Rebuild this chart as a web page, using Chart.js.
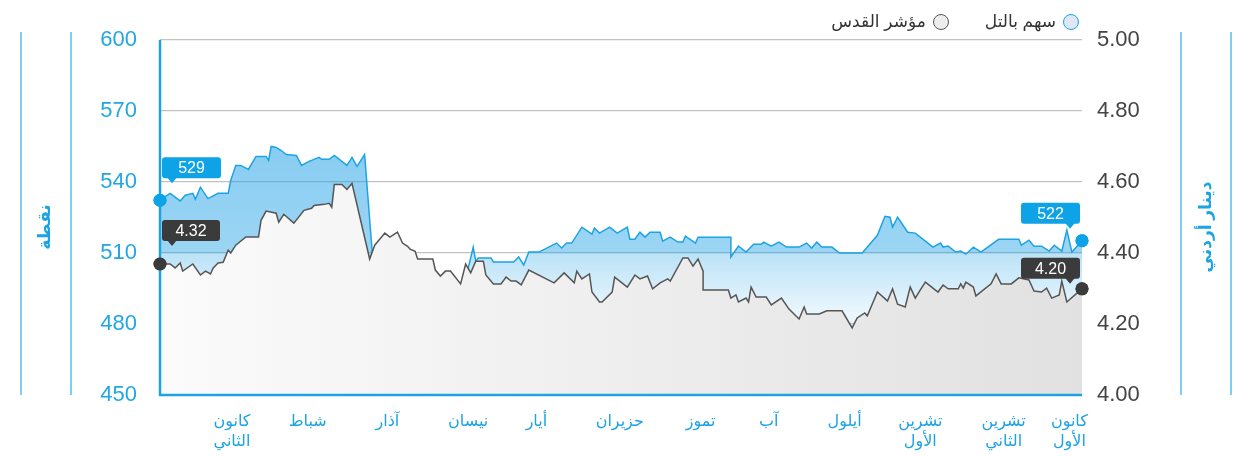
<!DOCTYPE html>
<html lang="ar">
<head>
<meta charset="utf-8">
<title>سهم بالتل / مؤشر القدس</title>
<script src="https://cdn.jsdelivr.net/npm/chart.js@4.4.1/dist/chart.umd.min.js"></script>
<style>
  html, body { margin: 0; padding: 0; background: #fff; }
  #wrap { position: relative; width: 1248px; height: 456px; }
  .legend { position: absolute; top: 11px; right: 169px; display: flex; gap: 36px;
    font: 17px 'Liberation Sans', 'DejaVu Sans', sans-serif; color: #333; }
  .legend-item { display: flex; align-items: center; gap: 7px; }
  .legend-dot { width: 16px; height: 16px; border-radius: 50%; box-sizing: border-box; border: 1.5px solid; }
</style>
</head>
<body>
<div id="wrap">
  <canvas id="chart"></canvas>
  <div class="legend" dir="rtl" id="legend"></div>
</div>
<script>
// ============ DATA ============
// x = day of the year (0..365)
const indexDays = [0,4,8,10,13,14,16,19,23,27,28,30,32,35,38,42,43,44,46,48,50,54,56,59,63,64,67,69,74,76,78,81,84,100,
  122,124,125,126,131,132,140,142,144,146,150,157,159,161,163,167,171,172,174,178,181,185,186,188,190,192,194,198,199,202,
  205,207,208,212,213,226,226,229,232,235,238,239,242,245,248,253,256,258,260,262,266,269,278,284,287,289,290,292,296,299,
  304,306,309,310,312,315,317,319,322,325,332,340,341,344,346,349,352,354,357,359,361,365];
const indexValues = [532.3,535.2,532.0,534.4,535.2,532.7,537.8,533.0,535.2,535.2,540.7,547.0,547.0,545.3,550.8,550.8,549.1,555.0,
  554.6,553.3,551.6,551.2,547.0,548.7,550.4,549.6,549.6,551.2,547.0,550.4,546.6,551.6,510.4,null,
  503.5,512.5,506.6,507.9,507.9,506.2,506.2,508.3,504.9,510.4,510.4,514.2,512.1,514.2,514.2,520.9,518.0,520.5,518.4,520.9,
  518.4,520.9,515.8,515.8,518.8,516.7,518.8,518.8,515.0,516.7,514.6,514.6,517.1,514.2,516.7,516.7,508.3,512.9,510.4,513.7,
  513.7,514.6,512.9,514.6,512.5,512.5,514.2,512.1,514.6,512.5,512.5,510.0,510.0,517.5,525.5,525.1,520.9,525.1,518.8,518.4,
  514.2,512.5,514.2,512.5,512.9,510.4,510.8,509.5,512.5,510.4,515.8,515.8,513.3,515.4,512.9,512.9,510.8,513.3,510.8,519.7,
  510.4,515.2];

const stockDays = [0,4,6,8,9,13,16,18,20,21,23,25,27,28,30,34,39,40,42,46,47,49,53,57,60,61,65,67,68,69,72,74,76,83,85,89,91,
  94,96,98,99,101,102,108,109,111,113,115,119,121,123,125,128,129,132,135,137,139,141,143,146,156,160,164,165,167,170,171,
  174,175,179,180,185,188,190,193,195,198,201,202,207,209,211,213,215,215,225,226,228,229,232,233,234,236,240,242,246,249,
  253,255,256,261,264,270,274,276,279,280,284,288,290,292,295,297,299,301,303,308,310,312,316,317,318,319,322,323,329,331,
  333,337,340,344,346,349,351,353,356,357,359,363,365];
const stockValues = [4.369,4.369,4.358,4.372,4.349,4.369,4.338,4.349,4.341,4.357,4.372,4.374,4.408,4.400,4.422,4.445,4.445,
  4.492,4.518,4.512,4.487,4.509,4.484,4.520,4.526,4.534,4.537,4.540,4.529,4.593,4.593,4.579,4.596,4.383,4.422,4.456,4.445,
  4.459,4.428,4.419,4.411,4.405,4.383,4.383,4.352,4.335,4.349,4.349,4.313,4.369,4.344,4.377,4.377,4.338,4.313,4.313,4.332,
  4.321,4.321,4.310,4.352,4.316,4.344,4.316,4.349,4.327,4.341,4.290,4.262,4.262,4.290,4.332,4.304,4.338,4.327,4.335,4.299,
  4.316,4.327,4.321,4.386,4.386,4.363,4.383,4.349,4.296,4.296,4.273,4.282,4.262,4.273,4.262,4.304,4.276,4.276,4.254,4.273,
  4.242,4.214,4.248,4.228,4.228,4.237,4.237,4.189,4.217,4.231,4.223,4.290,4.265,4.299,4.256,4.248,4.304,4.273,4.296,4.318,
  4.290,4.310,4.299,4.299,4.313,4.301,4.318,4.304,4.279,4.313,4.341,4.313,4.313,4.330,4.324,4.293,4.290,4.301,4.273,4.282,
  4.321,4.262,4.287,4.299];

// first / last value callouts
const indexLabels = ['529', '522'];
const stockLabels = ['4.32', '4.20'];

const monthTicks = [28.5, 58.5, 90, 122, 149, 182, 214, 241, 271, 301, 334, 360];
const monthLabels = [['كانون', 'الثاني'], 'شباط', 'آذار', 'نيسان', 'أيار', 'حزيران', 'تموز', 'آب', 'أيلول',
  ['تشرين', 'الأول'], ['تشرين', 'الثاني'], ['كانون', 'الأول']];

const seriesNames = ['سهم بالتل', 'مؤشر القدس'];
const axisTitles = ['نقطة', 'دينار أردني'];

// ============ STYLE ============
const BLUE = '#1ca3e2';
const DARK = '#3b3b3b';
const FONT = "'Liberation Sans', 'DejaVu Sans', sans-serif";

function blueFill(c) {
  const chart = c.chart, area = chart.chartArea;
  if (!area) return 'rgba(30,160,230,0.3)';
  const y510 = chart.scales.y.getPixelForValue(510);
  const t = (y510 - area.top) / (area.bottom - area.top);
  const g = chart.ctx.createLinearGradient(0, area.top, 0, area.bottom);
  g.addColorStop(0, 'rgba(30,160,230,0.62)');
  g.addColorStop(t, 'rgba(30,160,230,0.44)');
  g.addColorStop(t + 0.002, 'rgba(30,160,230,0.3)');
  g.addColorStop(0.76, 'rgba(30,160,230,0.1)');
  g.addColorStop(1, 'rgba(30,160,230,0.04)');
  return g;
}

function greyFill(c) {
  const chart = c.chart, area = chart.chartArea;
  if (!area) return '#eee';
  const g = chart.ctx.createLinearGradient(area.left, 0, area.right, 0);
  g.addColorStop(0, '#fbfbfb');
  g.addColorStop(1, '#e1e1e2');
  return g;
}

const endDot = last => c => (c.dataIndex === 0 || c.dataIndex === last) ? 6.5 : 0;

// ============ PLUGINS ============
const decor = {
  id: 'decor',
  afterDatasetsDraw(chart) {
    // plot frame (left + bottom), drawn above the fills
    const { ctx, chartArea: a } = chart;
    ctx.save();
    ctx.strokeStyle = BLUE;
    ctx.lineWidth = 2.5;
    ctx.beginPath();
    ctx.moveTo(a.left, a.top); ctx.lineTo(a.left, a.bottom); ctx.lineTo(a.right, a.bottom);
    ctx.stroke();
    ctx.restore();
  },
  afterDraw(chart) {
    const ctx = chart.ctx;
    ctx.save();
    ctx.strokeStyle = '#7fcdf1';
    ctx.lineWidth = 2;
    [21, 71, 1181, 1231].forEach(x => {
      ctx.beginPath(); ctx.moveTo(x, 32); ctx.lineTo(x, 395); ctx.stroke();
    });
    ctx.fillStyle = BLUE;
    ctx.font = 'bold 17px ' + FONT;
    ctx.textAlign = 'center';
    ctx.textBaseline = 'middle';
    [[45, 227, axisTitles[0]], [1206, 227, axisTitles[1]]].forEach(([x, y, s]) => {
      ctx.save(); ctx.translate(x, y); ctx.rotate(-Math.PI / 2); ctx.fillText(s, 0, 0); ctx.restore();
    });
    ctx.restore();
  }
};

function callout(ctx, x, y, w, h, tipX, text, color) {
  ctx.fillStyle = color;
  ctx.beginPath();
  ctx.roundRect(x, y, w, h, 3);
  ctx.fill();
  ctx.beginPath();
  ctx.moveTo(tipX - 5, y + h - 1); ctx.lineTo(tipX + 5, y + h - 1); ctx.lineTo(tipX, y + h + 5);
  ctx.closePath(); ctx.fill();
  ctx.fillStyle = '#fff';
  ctx.font = '16px ' + FONT;
  ctx.textAlign = 'center';
  ctx.textBaseline = 'middle';
  ctx.fillText(text, x + w / 2, y + h / 2 + 1);
}

const callouts = {
  id: 'callouts',
  afterDatasetsDraw(chart) {
    const ctx = chart.ctx;
    const bl = chart.getDatasetMeta(0).data, gr = chart.getDatasetMeta(1).data;
    const b0 = bl[0], b1 = bl[bl.length - 1], g0 = gr[0], g1 = gr[gr.length - 1];
    ctx.save();
    // end dots again, on top of the frame
    [b0, b1, g0, g1].forEach(p => p.draw(ctx));
    callout(ctx, b0.x + 2, b0.y - 43, 59, 21, b0.x + 12, indexLabels[0], '#0ea2e6');
    callout(ctx, g0.x + 2, g0.y - 44, 58, 21, g0.x + 12, stockLabels[0], DARK);
    callout(ctx, b1.x - 61, b1.y - 38, 59, 21, b1.x - 12, indexLabels[1], '#0ea2e6');
    callout(ctx, g1.x - 61, g1.y - 31, 59, 21, g1.x - 12, stockLabels[1], DARK);
    ctx.restore();
  }
};

// ============ CHART ============
const chart = new Chart(document.getElementById('chart'), {
  type: 'line',
  data: {
    datasets: [
      {
        label: seriesNames[0],
        data: indexDays.map((d, i) => ({ x: d, y: indexValues[i] })),
        yAxisID: 'y',
        borderColor: BLUE,
        borderWidth: 1.5,
        backgroundColor: blueFill,
        fill: '+1',
        tension: 0,
        pointRadius: endDot(indexDays.length - 1),
        pointBackgroundColor: '#0ea2e6',
        pointBorderWidth: 0,
        clip: false,
        order: 2
      },
      {
        label: seriesNames[1],
        data: stockDays.map((d, i) => ({ x: d, y: stockValues[i] })),
        yAxisID: 'y1',
        borderColor: '#555',
        borderWidth: 1.5,
        backgroundColor: greyFill,
        fill: 'start',
        tension: 0,
        pointRadius: endDot(stockDays.length - 1),
        pointBackgroundColor: DARK,
        pointBorderWidth: 0,
        clip: false,
        order: 1
      }
    ]
  },
  options: {
    responsive: true,
    maintainAspectRatio: false,
    animation: false,
    events: [],
    layout: { padding: { top: 40, left: 0, right: 0, bottom: 0 } },
    plugins: { legend: { display: false }, tooltip: { enabled: false } },
    scales: {
      x: {
        type: 'linear', min: 0, max: 365,
        afterFit: s => { s.height = 61; },
        afterBuildTicks: s => { s.ticks = monthTicks.map(v => ({ value: v })); },
        grid: { display: false },
        border: { display: false },
        ticks: {
          autoSkip: false, maxRotation: 0, padding: 8,
          color: BLUE, font: { family: FONT, size: 16, lineHeight: 1.28 },
          callback: (v, i) => monthLabels[i]
        }
      },
      y: {
        position: 'left', min: 450, max: 600,
        afterFit: s => { s.width = 160; },
        grid: { color: c => c.tick.value === 450 ? 'rgba(0,0,0,0)' : '#c2c2c2', lineWidth: 1.3, drawTicks: false },
        border: { display: false },
        ticks: { stepSize: 30, padding: 23, color: '#22a7e2', font: { family: FONT, size: 22 } }
      },
      y1: {
        position: 'right', min: 4, max: 5,
        afterFit: s => { s.width = 166; },
        grid: { display: false, drawTicks: false },
        border: { display: false },
        ticks: { stepSize: 0.2, padding: 15, color: '#444', font: { family: FONT, size: 22 },
          callback: v => v.toFixed(2) }
      }
    }
  },
  plugins: [decor, callouts]
});

// legend
const legendColors = [['#dde7f6', BLUE], ['#eeeeee', '#555']];
document.getElementById('legend').innerHTML = seriesNames.map((n, i) =>
  `<div class="legend-item">
    <div class="legend-dot" style="background:${legendColors[i][0]};border-color:${legendColors[i][1]}"></div>
    <span>${n}</span>
  </div>`
).join('');
</script>
</body>
</html>
